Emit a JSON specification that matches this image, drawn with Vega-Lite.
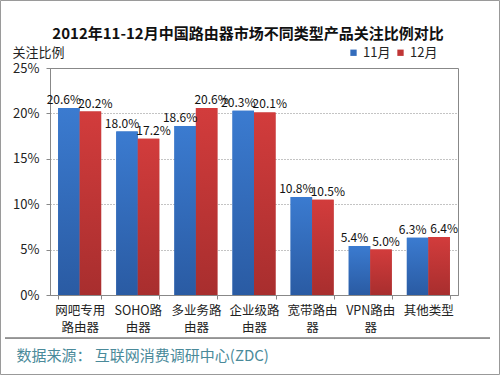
{
  "$schema": "https://vega.github.io/schema/vega-lite/v6.json",
  "width": 408,
  "height": 227,
  "autosize": {"type": "none"},
  "padding": {"left": 50, "top": 68, "right": 42, "bottom": 80},
  "background": "white",
  "title": {
    "text": "2012年11-12月中国路由器市场不同类型产品关注比例对比",
    "frame": "group",
    "anchor": "middle",
    "offset": -42,
    "dx": -6,
    "fontSize": 15,
    "fontWeight": "bold",
    "font": "Noto Sans CJK SC",
    "color": "#111111"
  },
  "config": {
    "font": "Noto Sans CJK SC",
    "view": {"stroke": "#888888", "strokeWidth": 1}
  },
  "datasets": {
    "share": [
      {"type": "网吧专用路由器", "month": "11月", "value": 0.206},
      {"type": "网吧专用路由器", "month": "12月", "value": 0.202},
      {"type": "SOHO路由器", "month": "11月", "value": 0.180},
      {"type": "SOHO路由器", "month": "12月", "value": 0.172},
      {"type": "多业务路由器", "month": "11月", "value": 0.186},
      {"type": "多业务路由器", "month": "12月", "value": 0.206},
      {"type": "企业级路由器", "month": "11月", "value": 0.203},
      {"type": "企业级路由器", "month": "12月", "value": 0.201},
      {"type": "宽带路由器", "month": "11月", "value": 0.108},
      {"type": "宽带路由器", "month": "12月", "value": 0.105},
      {"type": "VPN路由器", "month": "11月", "value": 0.054},
      {"type": "VPN路由器", "month": "12月", "value": 0.050},
      {"type": "其他类型", "month": "11月", "value": 0.063},
      {"type": "其他类型", "month": "12月", "value": 0.064}
    ]
  },
  "layer": [
    {
      "data": {"name": "share"},
      "encoding": {
        "x": {
          "field": "type",
          "type": "nominal",
          "sort": null,
          "scale": {"paddingInner": 0.26, "paddingOuter": 0.14},
          "axis": {
            "title": "数据来源： 互联网消费调研中心(ZDC)",
            "titleX": -34,
            "titleY": 60,
            "titleAnchor": null,
            "titleAlign": "left",
            "titleBaseline": "middle",
            "titleColor": "#4a8a9a",
            "titleFontSize": 15,
            "titleFontWeight": "normal",
            "labelExpr": "{'网吧专用路由器': ['网吧专用', '路由器'], 'SOHO路由器': ['SOHO路', '由器'], '多业务路由器': ['多业务路', '由器'], '企业级路由器': ['企业级路', '由器'], '宽带路由器': ['宽带路由', '器'], 'VPN路由器': ['VPN路由', '器'], '其他类型': '其他类型'}[datum.label]",
            "labelAngle": 0,
            "labelFontSize": 12.5,
            "labelColor": "#222222",
            "labelLineHeight": 17,
            "labelPadding": 5,
            "labelBaseline": "top",
            "tickBand": "extent",
            "tickSize": 4,
            "tickColor": "#888888",
            "domainColor": "#888888",
            "grid": false
          }
        },
        "xOffset": {
          "field": "month",
          "type": "nominal",
          "scale": {"domain": ["11月", "12月"], "paddingInner": 0, "paddingOuter": 0}
        },
        "y": {
          "field": "value",
          "type": "quantitative",
          "scale": {"domain": [0, 0.25], "nice": false},
          "axis": {
            "title": "关注比例",
            "titleAngle": 0,
            "titleAlign": "left",
            "titleBaseline": "middle",
            "titleX": -38,
            "titleY": -16,
            "titleFontSize": 13,
            "titleFontWeight": "normal",
            "titleColor": "#222222",
            "format": ".0%",
            "values": [0, 0.05, 0.1, 0.15, 0.2, 0.25],
            "labelFontSize": 13,
            "labelColor": "#222222",
            "labelPadding": 7,
            "tickSize": 4,
            "tickColor": "#888888",
            "domainColor": "#888888",
            "gridColor": "#888888",
            "gridDash": [1, 2],
            "gridOpacity": 1
          }
        }
      },
      "layer": [
        {
          "mark": {"type": "bar"},
          "encoding": {
            "color": {
              "field": "month",
              "type": "nominal",
              "scale": {"domain": ["11月", "12月"], "range": ["#336cbc", "#c03636"]},
              "legend": {
                "orient": "none",
                "legendX": 297,
                "legendY": -22,
                "direction": "horizontal",
                "title": null,
                "symbolType": "square",
                "symbolSize": 40,
                "symbolStrokeWidth": 0,
                "labelFontSize": 13,
                "labelColor": "#222222",
                "labelOffset": 3,
                "columnPadding": 3
              }
            }
          }
        },
        {
          "mark": {"type": "bar"},
          "encoding": {
            "color": {
              "condition": {
                "test": "datum.month === '11月'",
                "value": {"gradient": "linear", "x1": 0, "y1": 0, "x2": 0, "y2": 1, "stops": [{"offset": 0, "color": "#3b7bd0"}, {"offset": 1, "color": "#2a5ba3"}]}
              },
              "value": {"gradient": "linear", "x1": 0, "y1": 0, "x2": 0, "y2": 1, "stops": [{"offset": 0, "color": "#d23c3c"}, {"offset": 1, "color": "#a82e2e"}]}
            }
          }
        },
        {
          "transform": [{"filter": "datum.month === '11月'"}],
          "mark": {"type": "text", "baseline": "bottom", "dy": -1, "dx": -5, "fontSize": 12, "color": "#111111"},
          "encoding": {
            "text": {"field": "value", "type": "quantitative", "format": ".1%"}
          }
        },
        {
          "transform": [{"filter": "datum.month === '12月'"}],
          "mark": {"type": "text", "baseline": "bottom", "dy": -1, "dx": 5, "fontSize": 12, "color": "#111111"},
          "encoding": {
            "text": {"field": "value", "type": "quantitative", "format": ".1%"}
          }
        }
      ]
    },
    {
      "data": {"values": [{}]},
      "layer": [
        {
          "mark": {"type": "rule", "color": "#333333", "strokeWidth": 1},
          "encoding": {
            "x": {"datum": 0, "type": "quantitative", "scale": {"domain": [0, 1], "range": [-45, 440], "nice": false, "zero": false}, "axis": null},
            "x2": {"datum": 1},
            "y": {"datum": -0.0474, "type": "quantitative", "scale": {"domain": [0, 0.25], "nice": false}}
          }
        },
        {
          "mark": {"type": "rect", "fill": null, "fillOpacity": 0, "stroke": "#999999", "strokeWidth": 1},
          "encoding": {
            "x": {"datum": -0.00928, "type": "quantitative"},
            "x2": {"datum": 1.01959},
            "y": {"datum": 0.32434, "type": "quantitative"},
            "y2": {"datum": -0.08756}
          }
        }
      ]
    }
  ],
  "resolve": {"scale": {"x": "independent"}, "axis": {"x": "independent"}}
}
